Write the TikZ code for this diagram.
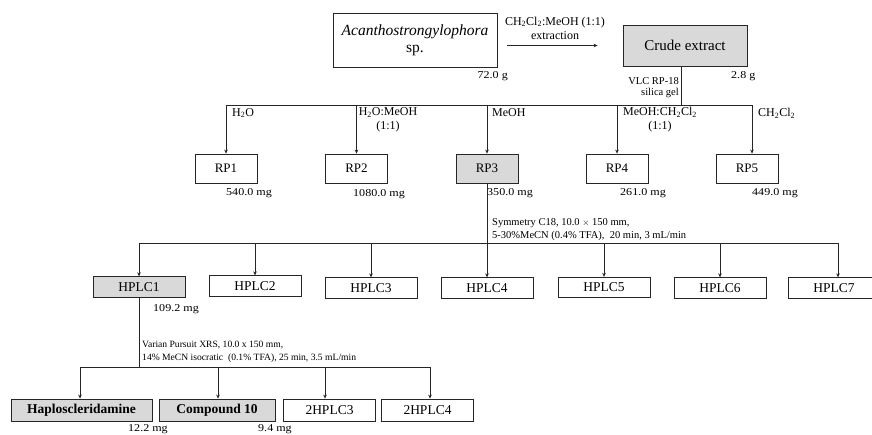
\documentclass[tikz,border=0pt]{standalone}
\usepackage{fontspec}
\setmainfont{Liberation Serif}
\newfontfamily\widefont[FakeStretch=1.15]{Liberation Serif}
\usetikzlibrary{arrows.meta}
\begin{document}
\begin{tikzpicture}[x=1pt,y=-1pt,
  box/.style={draw=black!85, line width=0.8pt, inner sep=0pt, align=center},
  shaded/.style={box, fill=black!15},
  rp/.style={box, minimum width=62pt, minimum height=29pt, font=\fontsize{13}{15}\selectfont},
  hplc/.style={box, minimum width=92pt, minimum height=20.5pt, font=\fontsize{13.5}{15}\selectfont},
  final/.style={hplc, minimum height=22pt},
  link/.style={line width=0.8pt, draw=black!85},
  feed/.style={link, -{Stealth[length=4pt,width=3.6pt]}},
  amount/.style={inner sep=0pt, anchor=west, font=\widefont\fontsize{10.5}{12}\selectfont},
  note/.style={inner sep=0pt, align=left, font=\fontsize{12}{14}\selectfont},
  cond/.style={inner sep=0pt, anchor=west, align=left, font=\fontsize{10.5}{13.5}\selectfont},
]
\useasboundingbox (0,0) rectangle (872,434);

% ---- extraction ----
\node[box, minimum width=164pt, minimum height=54pt, font=\fontsize{15.5}{17}\selectfont]
  (sponge) at (415,40) {\textit{Acanthostrongylophora}\\sp.};
\node[shaded, minimum width=124pt, minimum height=41pt, font=\fontsize{15}{17}\selectfont]
  (crude) at (685,45.5) {Crude extract};
\draw[feed, shorten <=10pt, shorten >=25pt] (sponge.east |- crude.west) -- (crude.west);
\node[note, align=center] (solvent) at (555,28) {CH\textsubscript{2}Cl\textsubscript{2}:MeOH (1:1)\\extraction};
\node[amount, anchor=east] (w0) at (508,76) {72.0 g};
\node[amount] (w1) at (731,76) {2.8 g};
\node[inner sep=0pt, anchor=east, align=right, font=\fontsize{10.5}{11.5}\selectfont]
  (vlc) at (679,87.5) {VLC RP-18\\silica gel};

% ---- VLC fractions ----
\coordinate (split) at (681,105);
\node[rp] (rp1) at (226,168.5) {RP1};
\node[rp] (rp2) at (356.5,168.5) {RP2};
\node[rp, fill=black!15] (rp3) at (487,168.5) {RP3};
\node[rp] (rp4) at (617,168.5) {RP4};
\node[rp] (rp5) at (747,168.5) {RP5};
\coordinate (rpend) at (752,105);

\draw[link] (split |- crude.south) -- (split);
\draw[link] (split -| rp1) -- (rpend);
\foreach \f in {rp1,rp2,rp3,rp4}
  \draw[feed] (split -| \f) -- (\f.north);
\draw[feed] (rpend) -- (rpend |- rp5.north);

\node[note, anchor=west] (s1) at (232,113) {H\textsubscript{2}O};
\node[note, align=center] (s2) at (388,120) {H\textsubscript{2}O:MeOH\\(1:1)};
\node[note, anchor=west] (s3) at (492,113) {MeOH};
\node[note, align=center] (s4) at (660,120) {MeOH:CH\textsubscript{2}Cl\textsubscript{2}\\(1:1)};
\node[note, anchor=west] (s5) at (758,113) {CH\textsubscript{2}Cl\textsubscript{2}};

\node[amount] (m1) at (226,193) {540.0 mg};
\node[amount] (m2) at (353,194) {1080.0 mg};
\node[amount] (m3) at (487,193) {350.0 mg};
\node[amount] (m4) at (620,193) {261.0 mg};
\node[amount] (m5) at (752,193) {449.0 mg};

% ---- HPLC of RP3 ----
\coordinate (hbus) at (487,243);
\node[hplc, fill=black!15] (h1) at (139,287) {HPLC1};
\node[hplc] (h2) at (255,286) {HPLC2};
\node[hplc] (h3) at (371,288) {HPLC3};
\node[hplc] (h4) at (487,288) {HPLC4};
\node[hplc] (h5) at (604,287.5) {HPLC5};
\node[hplc] (h6) at (720,288) {HPLC6};
\node[hplc] (h7) at (834,288) {HPLC7};
\coordinate (hend) at (838,243);

\draw[link] (rp3.south) -- (hbus);
\draw[link] (hbus -| h1) -- (hend);
\foreach \f in {h1,h2,h3,h4,h5,h6}
  \draw[feed] (hbus -| \f) -- (\f.north);
\draw[feed] (hend) -- (hend |- h7.north);
\node[cond] (c1) at (492,229.5) {Symmetry C18, 10.0 {\fontsize{9}{10}\selectfont$\times$} 150 mm,\\5-30\%MeCN (0.4\% TFA),~ 20 min, 3 mL/min};
\node[amount] (m6) at (153,309) {109.2 mg};

% ---- second HPLC of HPLC1 ----
\coordinate (bbus) at (139,367);
\node[final, minimum width=141pt, fill=black!15, font=\bfseries\fontsize{13.5}{15}\selectfont] (hap) at (81.5,410) {Haploscleridamine};
\node[final, minimum width=116pt, fill=black!15, font=\bfseries\fontsize{13.5}{15}\selectfont] (cmp) at (217,410) {Compound 10};
\node[final] (b3) at (329.5,410) {2HPLC3};
\node[final] (b4) at (427.5,410) {2HPLC4};
\coordinate (bl) at (80,367);
\coordinate (bm) at (218,367);
\coordinate (bn) at (325,367);
\coordinate (br) at (430,367);

\draw[link] (h1.south) -- (bbus);
\draw[link] (bl) -- (br);
\draw[feed] (bl) -- (bl |- hap.north);
\draw[feed] (bm) -- (bm |- cmp.north);
\draw[feed] (bn) -- (bn |- b3.north);
\draw[feed] (br) -- (br |- b4.north);
\node[cond, font=\fontsize{9.6}{13}\selectfont] (c2) at (142,352) {Varian Pursuit XRS, 10.0 x 150 mm,\\14\% MeCN isocratic~ (0.1\% TFA), 25 min, 3.5 mL/min};
\node[amount] (m7) at (128,429) {12.2 mg};
\node[amount] (m8) at (258,429) {9.4 mg};
\end{tikzpicture}
\end{document}
